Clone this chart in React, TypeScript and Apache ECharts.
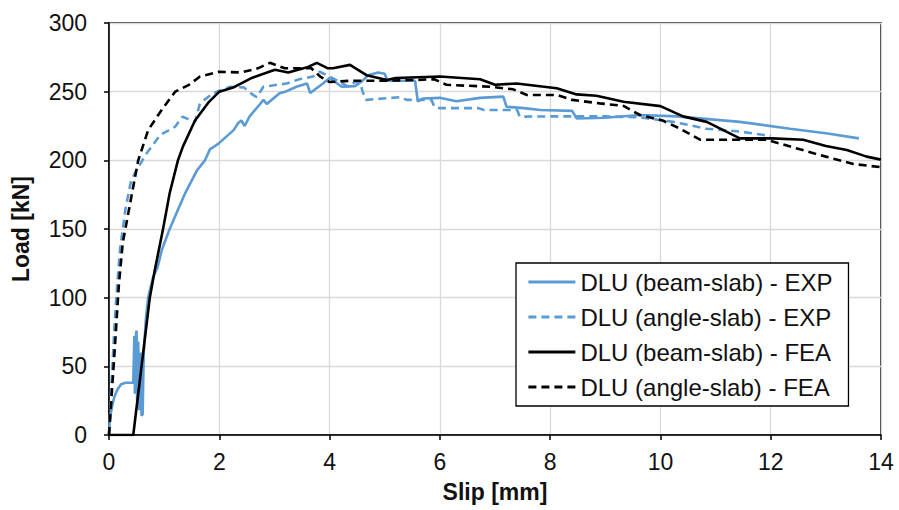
import React, { useEffect, useRef } from "react";
import * as echarts from "echarts";

const seriesNames = [
  "DLU (beam-slab) - EXP",
  "DLU (angle-slab) - EXP",
  "DLU (beam-slab) - FEA",
  "DLU (angle-slab) - FEA",
];

// [slip mm, load kN]
const beamSlabExp: number[][] = [
  [0, 0], [0.01, 8], [0.03, 15], [0.06, 22], [0.1, 28], [0.15, 33], [0.22, 37], [0.3, 38], [0.44, 38],
  [0.45, 55], [0.46, 72], [0.47, 30], [0.48, 70], [0.5, 76], [0.51, 25], [0.53, 68], [0.55, 18],
  [0.57, 60], [0.59, 14], [0.61, 15], [0.63, 60], [0.67, 85], [0.71, 100], [0.8, 115], [0.88, 122],
  [0.96, 135], [1.1, 150], [1.38, 176], [1.6, 193], [1.74, 200], [1.83, 208], [1.98, 212], [2.26, 222],
  [2.34, 227], [2.4, 229], [2.46, 225], [2.55, 232], [2.74, 241], [2.8, 244], [2.86, 241], [3.1, 249],
  [3.2, 250], [3.4, 253.6], [3.59, 256], [3.65, 249], [3.88, 256], [4.0, 260], [4.1, 257], [4.22, 253.6],
  [4.46, 254], [4.6, 258], [4.7, 262], [4.88, 264], [5.0, 263], [5.05, 258], [5.55, 258], [5.6, 243],
  [5.7, 245], [6.0, 245.5], [6.3, 243], [6.73, 245.5], [7.15, 246.4], [7.21, 239], [7.52, 238],
  [7.82, 236.6], [8.4, 236], [8.48, 230.5], [9.0, 231], [9.63, 233], [10.3, 232], [11.44, 228],
  [12.35, 223], [13.0, 219.7], [13.6, 216],
];

const angleSlabExp: number[][] = [
  [0, 0], [0.05, 40], [0.1, 80], [0.15, 110], [0.2, 135], [0.3, 165], [0.4, 185], [0.5, 193], [0.68, 205],
  [0.93, 218.5], [1.2, 224.5], [1.33, 231.8], [1.56, 228], [1.65, 241.5], [1.89, 249], [2.2, 253.6],
  [2.45, 253], [2.6, 248], [2.68, 246], [2.8, 253.6], [3.22, 256], [3.45, 259], [3.7, 261], [3.82, 264.5],
  [4.0, 261], [4.34, 253.6], [4.46, 257], [4.55, 257], [4.6, 250], [4.66, 244], [5.27, 246], [5.4, 244],
  [5.85, 244], [5.9, 239], [6.0, 238], [6.7, 238], [6.8, 236.6], [7.4, 236.6], [7.45, 231.8], [8.0, 232],
  [9.0, 232], [9.63, 231.3], [10.23, 228], [10.84, 223], [11.44, 221], [12.0, 217.7],
];

const beamSlabFea: number[][] = [
  [0, 0], [0.44, 0], [0.59, 50], [0.74, 100], [0.83, 120], [0.98, 150], [1.1, 176], [1.25, 200],
  [1.34, 210], [1.56, 229], [1.8, 242], [2.0, 250], [2.25, 253], [2.59, 260], [3.01, 266], [3.25, 264],
  [3.61, 268], [3.77, 271], [3.97, 267], [4.06, 267], [4.37, 269.5], [4.67, 262], [5.04, 258.5],
  [5.2, 260], [6.0, 261], [6.73, 259], [7.0, 255], [7.39, 256], [8.12, 252.5], [8.48, 248], [8.84, 247],
  [9.33, 242.7], [10.0, 239.5], [10.41, 232], [10.84, 228], [11.44, 216], [12.03, 216], [12.59, 215],
  [13.0, 210.4], [13.38, 207.5], [13.74, 202.7], [14.0, 200.5],
];

const angleSlabFea: number[][] = [
  [0, 0], [0.1, 60], [0.18, 110], [0.25, 140], [0.32, 155], [0.44, 181], [0.53, 200], [0.71, 222],
  [0.96, 237], [1.2, 250], [1.45, 255], [1.65, 261], [2.0, 264.5], [2.4, 264], [2.7, 267], [2.92, 271],
  [3.19, 267], [3.67, 267], [3.83, 261], [4.0, 257], [4.4, 258], [5.04, 258], [5.52, 258.5], [5.9, 259],
  [6.12, 255], [6.91, 253.6], [7.33, 251.7], [7.58, 247.6], [8.12, 247.6], [8.4, 244], [8.9, 241.5],
  [9.33, 239.6], [9.63, 233], [10.04, 229], [10.36, 223], [10.72, 215], [11.93, 215], [12.53, 208],
  [13.0, 202.7], [13.5, 197.3], [14.0, 195],
];

const BLUE = "#5b9bd5";
const FONT = "Liberation Sans, Arial, sans-serif";

export default function App() {
  const ref = useRef<HTMLDivElement>(null);
  useEffect(() => {
    if (!ref.current) return;
    const chart = echarts.init(ref.current, undefined, { renderer: "svg" });
    const mk = (name: string, data: number[][], color: string, dashed: boolean) => ({
      name,
      type: "line",
      data,
      symbol: "none",
      smooth: false,
      lineStyle: { color, width: 2.6, type: dashed ? [8, 5] : "solid" },
      itemStyle: { color },
    });
    chart.setOption({
      animation: false,
      backgroundColor: "#fff",
      textStyle: { fontFamily: FONT },
      grid: {
        left: 109, right: 18, top: 23, bottom: 75,
        show: true, borderColor: "#000", borderWidth: 1.5, backgroundColor: "transparent",
      },
      xAxis: {
        type: "value", min: 0, max: 14, interval: 2,
        name: "Slip [mm]", nameLocation: "middle", nameGap: 45,
        nameTextStyle: { fontSize: 23, fontWeight: "bold", color: "#111", fontFamily: FONT },
        axisLine: { show: true, onZero: false, lineStyle: { color: "#000", width: 1.5 } },
        axisTick: { show: true, inside: false, length: 5, lineStyle: { color: "#000", width: 1.5 } },
        axisLabel: { fontSize: 23, color: "#111", margin: 15, fontFamily: FONT },
        splitLine: { show: true, lineStyle: { color: "#d9d9d9", width: 1.3 } },
      },
      yAxis: {
        type: "value", min: 0, max: 300, interval: 50,
        name: "Load [kN]", nameLocation: "middle", nameGap: 77, nameRotate: 90,
        nameTextStyle: { fontSize: 23, fontWeight: "bold", color: "#111", fontFamily: FONT },
        axisLine: { show: true, onZero: false, lineStyle: { color: "#000", width: 1.5 } },
        axisTick: { show: true, inside: false, length: 5, lineStyle: { color: "#000", width: 1.5 } },
        axisLabel: { fontSize: 23, color: "#111", margin: 22, fontFamily: FONT },
        splitLine: { show: true, lineStyle: { color: "#d9d9d9", width: 1.3 } },
      },
      legend: {
        orient: "vertical",
        left: 516,
        top: 263,
        padding: [7, 16, 7, 11],
        itemWidth: 47,
        itemHeight: 14,
        itemGap: 11,
        itemStyle: { opacity: 0, color: "transparent", borderWidth: 0 },
        lineStyle: { width: 2.8 },
        backgroundColor: "#fff",
        borderColor: "#000",
        borderWidth: 1.3,
        borderRadius: 0,
        textStyle: { fontSize: 24, color: "#111", fontFamily: FONT, lineHeight: 23 },
        data: seriesNames,
      },
      series: [
        mk(seriesNames[0], beamSlabExp, BLUE, false),
        mk(seriesNames[1], angleSlabExp, BLUE, true),
        mk(seriesNames[2], beamSlabFea, "#000", false),
        mk(seriesNames[3], angleSlabFea, "#000", true),
      ],
    });
    return () => chart.dispose();
  }, []);
  return (
    <div
      ref={ref}
      style={{ position: "fixed", left: 0, top: 0, width: 899, height: 510, background: "#fff" }}
    />
  );
}
